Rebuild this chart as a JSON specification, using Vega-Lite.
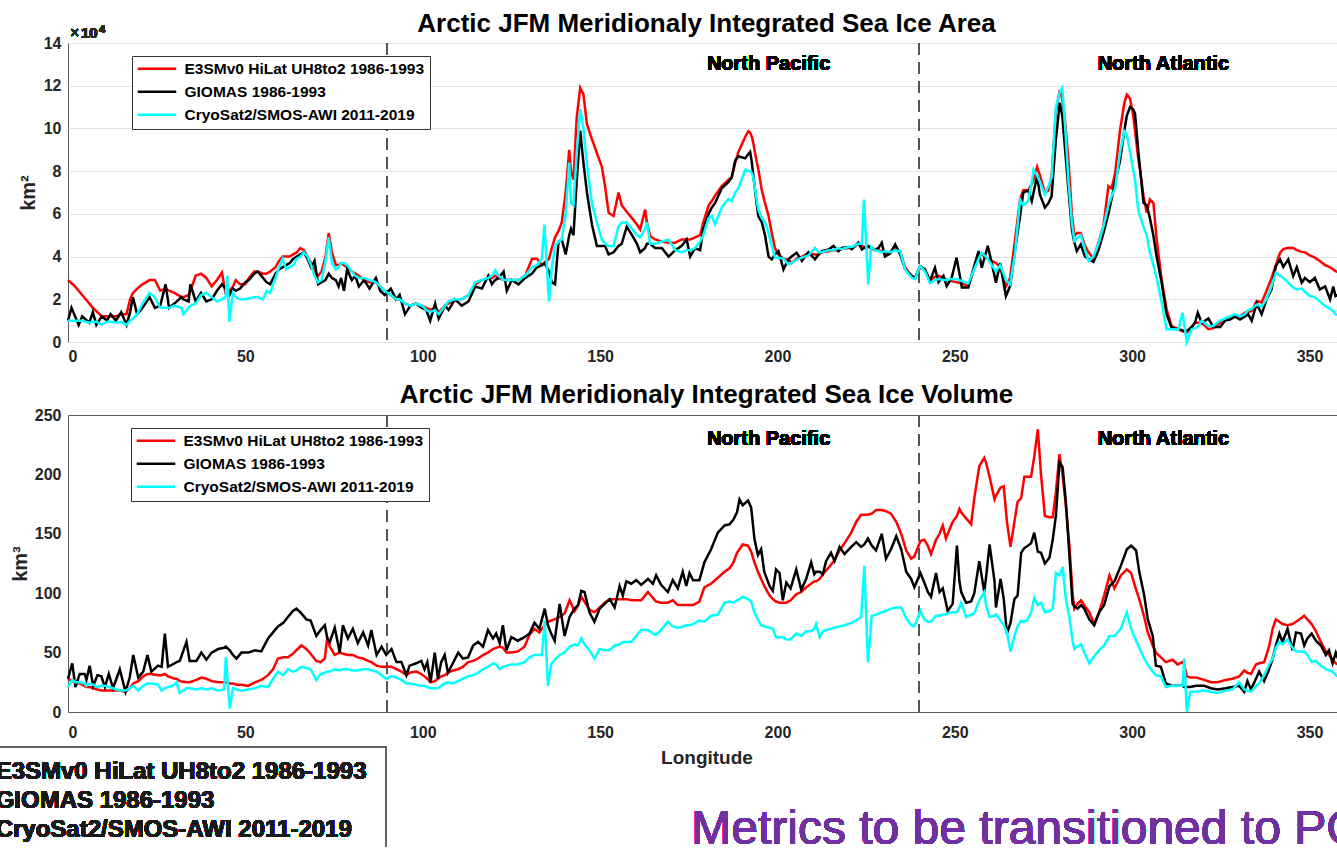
{
"$schema": "https://vega.github.io/schema/vega-lite/v6.json",
"background": "white",
"padding": {"left": -5, "top": 10, "right": 0, "bottom": 0},
"spacing": 16,
"datasets": {
"area": [
{"x":0,"e":2.9,"g":1.0,"c":1.0},{"x":1,"e":2.75,"g":1.6,"c":1.0},{"x":2,"e":2.6,"g":1.2,"c":1.0},{"x":3,"e":2.4,"g":0.8,"c":1.0},{"x":4,"e":2.2,"g":1.2,"c":1.0},{"x":6,"e":1.8,"g":0.9,"c":0.9},{"x":7,"e":1.6,"g":1.4,"c":0.95},{"x":8,"e":1.45,"g":0.8,"c":0.95},{"x":9.5,"e":1.2,"g":1.2,"c":0.8},{"x":11,"e":1.2,"g":1.0,"c":0.95},{"x":12,"e":1.2,"g":1.3,"c":0.95},{"x":13.5,"e":1.2,"g":1.0,"c":0.9},{"x":15,"e":1.3,"g":1.4,"c":0.95},{"x":16.5,"e":1.3,"g":0.8,"c":0.8},{"x":17.5,"e":2.0,"g":1.4,"c":1.0},{"x":18.3,"e":2.3,"g":2.1,"c":1.1},{"x":19.5,"e":2.5,"g":1.3,"c":1.3},{"x":21,"e":2.7,"g":1.6,"c":1.8},{"x":23,"e":2.9,"g":2.1,"c":2.3},{"x":24.5,"e":2.9,"g":1.6,"c":2.1},{"x":26,"e":2.4,"g":1.7,"c":1.6},{"x":27.5,"e":2.5,"g":2.7,"c":1.6},{"x":28.5,"e":2.4,"g":1.6,"c":1.6},{"x":30,"e":2.3,"g":1.8,"c":1.7},{"x":32,"e":2.1,"g":2.1,"c":1.6},{"x":32.5,"e":2.1,"g":2.0,"c":1.3},{"x":34,"e":2.2,"g":1.9,"c":1.6},{"x":34.5,"e":2.4,"g":2.7,"c":1.7},{"x":36,"e":3.1,"g":1.9,"c":1.8},{"x":37.5,"e":3.2,"g":2.3,"c":2.2},{"x":39,"e":3.0,"g":1.9,"c":2.3},{"x":40.5,"e":2.6,"g":2.0,"c":2.1},{"x":42,"e":2.9,"g":2.4,"c":1.9},{"x":43.4,"e":3.25,"g":2.7,"c":2.0},{"x":44.4,"e":2.3,"g":2.5,"c":2.1},{"x":44.9,"e":2.3,"g":2.4,"c":3.1},{"x":45.5,"e":2.4,"g":2.2,"c":0.95},{"x":46.5,"e":2.6,"g":2.5,"c":2.3},{"x":47.3,"e":2.9,"g":2.4,"c":2.1},{"x":48.5,"e":2.7,"g":2.5,"c":2.0},{"x":50,"e":2.7,"g":2.8,"c":2.0},{"x":51,"e":3.0,"g":2.9,"c":2.05},{"x":52.5,"e":3.3,"g":3.2,"c":2.1},{"x":53.5,"e":3.3,"g":3.3,"c":2.1},{"x":55,"e":3.2,"g":3.0,"c":2.0},{"x":56,"e":3.2,"g":2.8,"c":2.4},{"x":57,"e":3.3,"g":2.7,"c":2.3},{"x":58.5,"e":3.5,"g":3.2,"c":3.0},{"x":59.5,"e":3.8,"g":3.4,"c":3.5},{"x":60.5,"e":4.0,"g":3.5,"c":3.9},{"x":61.5,"e":4.0,"g":3.6,"c":3.4},{"x":62.5,"e":4.0,"g":3.7,"c":3.5},{"x":63.5,"e":4.1,"g":3.9,"c":3.6},{"x":64.5,"e":4.2,"g":4.0,"c":3.9},{"x":65.5,"e":4.4,"g":4.1,"c":4.0},{"x":66.5,"e":4.3,"g":4.2,"c":4.2},{"x":67.5,"e":4.0,"g":3.9,"c":4.0},{"x":68.5,"e":3.7,"g":3.5,"c":3.6},{"x":69.5,"e":3.3,"g":3.8,"c":3.1},{"x":70.5,"e":3.1,"g":2.7,"c":2.8},{"x":71.5,"e":3.3,"g":2.8,"c":2.9},{"x":72.6,"e":4.0,"g":2.9,"c":3.8},{"x":73.5,"e":5.1,"g":3.2,"c":4.9},{"x":74.4,"e":4.2,"g":3.0,"c":3.7},{"x":75.5,"e":3.6,"g":2.9,"c":3.4},{"x":76.3,"e":3.6,"g":2.6,"c":3.5},{"x":77,"e":3.7,"g":3.0,"c":3.7},{"x":77.8,"e":3.6,"g":2.4,"c":3.7},{"x":78.7,"e":3.5,"g":3.4,"c":3.6},{"x":80,"e":3.3,"g":2.9,"c":3.3},{"x":81,"e":3.2,"g":3.1,"c":3.1},{"x":82,"e":3.1,"g":2.6,"c":3.0},{"x":83.5,"e":2.9,"g":2.9,"c":3.0},{"x":85,"e":2.8,"g":2.5,"c":2.9},{"x":86.8,"e":2.8,"g":3.0,"c":2.8},{"x":88,"e":2.6,"g":2.4,"c":2.6},{"x":89.3,"e":2.4,"g":2.2,"c":2.4},{"x":91,"e":2.2,"g":2.5,"c":2.2},{"x":92.5,"e":2.0,"g":2.0,"c":2.0},{"x":93.5,"e":2.0,"g":2.2,"c":2.0},{"x":95,"e":1.8,"g":1.3,"c":1.8},{"x":96.5,"e":1.7,"g":1.7,"c":1.7},{"x":98,"e":1.8,"g":1.8,"c":1.8},{"x":99.8,"e":1.7,"g":1.6,"c":1.7},{"x":101,"e":1.6,"g":1.5,"c":1.5},{"x":102.1,"e":1.5,"g":1.0,"c":1.4},{"x":103.5,"e":1.6,"g":1.8,"c":1.5},{"x":104.5,"e":1.4,"g":1.1,"c":1.3},{"x":106.3,"e":1.7,"g":1.7,"c":1.7},{"x":107.3,"e":1.8,"g":1.5,"c":1.9},{"x":109.1,"e":2.0,"g":2.0,"c":2.0},{"x":111,"e":2.0,"g":1.7,"c":2.0},{"x":112.9,"e":2.2,"g":1.9,"c":2.2},{"x":114.8,"e":2.7,"g":2.6,"c":2.8},{"x":116.7,"e":2.9,"g":2.5,"c":2.9},{"x":118.5,"e":3.0,"g":3.1,"c":3.0},{"x":119.5,"e":3.0,"g":2.7,"c":3.1},{"x":120.4,"e":3.1,"g":2.9,"c":3.35},{"x":121.4,"e":3.0,"g":3.0,"c":3.1},{"x":122.8,"e":2.9,"g":3.3,"c":2.9},{"x":123.7,"e":2.9,"g":2.4,"c":2.9},{"x":125.1,"e":2.9,"g":2.9,"c":2.9},{"x":127,"e":2.9,"g":2.7,"c":2.9},{"x":128.9,"e":3.1,"g":3.0,"c":3.1},{"x":130.8,"e":3.9,"g":3.2,"c":3.5},{"x":132.2,"e":3.9,"g":3.5,"c":3.6},{"x":133.6,"e":3.6,"g":3.6,"c":3.9},{"x":134.3,"e":3.7,"g":3.7,"c":5.5},{"x":135.6,"e":3.9,"g":3.3,"c":1.9},{"x":136.4,"e":4.4,"g":2.8,"c":3.5},{"x":137.3,"e":4.9,"g":2.7,"c":4.5},{"x":138.3,"e":5.2,"g":4.7,"c":4.7},{"x":139.2,"e":5.6,"g":4.8,"c":4.8},{"x":140.3,"e":7.0,"g":4.1,"c":6.0},{"x":141.3,"e":9.0,"g":5.0,"c":8.4},{"x":141.8,"e":8.0,"g":5.3,"c":6.5},{"x":142.5,"e":7.6,"g":5.0,"c":6.4},{"x":143.4,"e":10.5,"g":7.5,"c":8.8},{"x":144.4,"e":11.9,"g":9.9,"c":10.9},{"x":145.3,"e":11.6,"g":8.4,"c":10.0},{"x":146.3,"e":10.2,"g":7.0,"c":8.3},{"x":147.7,"e":9.5,"g":5.5,"c":6.5},{"x":149.1,"e":8.85,"g":4.5,"c":5.6},{"x":150.5,"e":8.2,"g":4.5,"c":4.8},{"x":151.4,"e":7.3,"g":4.5,"c":4.6},{"x":152.4,"e":6.05,"g":4.1,"c":4.5},{"x":153.8,"e":5.9,"g":4.2,"c":4.5},{"x":155.2,"e":7.0,"g":4.5,"c":5.4},{"x":156.1,"e":6.4,"g":4.6,"c":5.6},{"x":157.5,"e":6.1,"g":5.4,"c":5.6},{"x":159,"e":5.8,"g":5.0,"c":5.3},{"x":160.4,"e":5.5,"g":4.6,"c":5.0},{"x":161.3,"e":5.27,"g":4.2,"c":4.9},{"x":162.7,"e":6.2,"g":4.4,"c":5.3},{"x":163.2,"e":5.6,"g":4.6,"c":5.6},{"x":164.1,"e":4.96,"g":4.6,"c":4.6},{"x":165.5,"e":4.8,"g":4.4,"c":4.6},{"x":167.4,"e":4.7,"g":4.4,"c":4.7},{"x":169.3,"e":4.65,"g":4.0,"c":4.8},{"x":171.2,"e":4.65,"g":4.3,"c":4.3},{"x":173,"e":4.8,"g":4.5,"c":4.2},{"x":174.4,"e":4.8,"g":4.8,"c":4.3},{"x":175.4,"e":4.8,"g":4.0,"c":4.3},{"x":176.8,"e":4.9,"g":4.4,"c":4.4},{"x":178.2,"e":5.0,"g":4.3,"c":4.7},{"x":179.1,"e":5.6,"g":5.3,"c":5.0},{"x":180.6,"e":6.4,"g":6.0,"c":5.8},{"x":181.5,"e":6.6,"g":6.3,"c":5.9},{"x":182.4,"e":6.85,"g":6.5,"c":5.5},{"x":184.3,"e":7.3,"g":7.2,"c":6.3},{"x":186.2,"e":7.6,"g":7.5,"c":6.7},{"x":187.1,"e":7.7,"g":7.7,"c":6.6},{"x":188.1,"e":8.4,"g":8.5,"c":7.0},{"x":189,"e":8.9,"g":8.7,"c":7.2},{"x":190.9,"e":9.6,"g":8.6,"c":8.07},{"x":191.8,"e":9.87,"g":8.8,"c":8.0},{"x":192.3,"e":9.8,"g":8.9,"c":8.0},{"x":192.8,"e":9.6,"g":8.4,"c":7.9},{"x":193.2,"e":9.3,"g":7.8,"c":7.7},{"x":194.2,"e":8.4,"g":6.4,"c":6.6},{"x":194.6,"e":8.1,"g":5.9,"c":6.2},{"x":195.6,"e":7.1,"g":5.6,"c":5.8},{"x":196.5,"e":6.5,"g":5.0,"c":5.6},{"x":197.5,"e":5.9,"g":4.0,"c":5.1},{"x":198.4,"e":5.1,"g":3.87,"c":4.5},{"x":199.3,"e":4.4,"g":4.1,"c":3.95},{"x":200.3,"e":4.1,"g":4.26,"c":3.95},{"x":201.7,"e":3.9,"g":3.4,"c":3.9},{"x":203.1,"e":3.85,"g":3.87,"c":3.63},{"x":204,"e":3.7,"g":4.0,"c":3.7},{"x":205.4,"e":3.9,"g":4.18,"c":3.85},{"x":206.9,"e":4.0,"g":3.8,"c":3.95},{"x":208.7,"e":4.15,"g":4.2,"c":4.05},{"x":210.6,"e":4.1,"g":3.87,"c":4.4},{"x":211.6,"e":4.1,"g":4.1,"c":4.2},{"x":212.5,"e":4.2,"g":4.26,"c":4.2},{"x":214.4,"e":4.25,"g":4.33,"c":4.3},{"x":215.8,"e":4.3,"g":4.5,"c":4.3},{"x":217.2,"e":4.3,"g":4.25,"c":4.4},{"x":218.1,"e":4.35,"g":4.4,"c":4.35},{"x":220,"e":4.4,"g":4.45,"c":4.45},{"x":221,"e":4.4,"g":4.35,"c":4.45},{"x":222.8,"e":4.6,"g":4.65,"c":4.6},{"x":223.8,"e":4.5,"g":4.33,"c":4.6},{"x":224.4,"e":4.45,"g":4.4,"c":6.67},{"x":225.6,"e":4.45,"g":4.5,"c":2.7},{"x":226.4,"e":4.4,"g":4.4,"c":4.45},{"x":227.5,"e":4.3,"g":4.33,"c":4.3},{"x":228.5,"e":4.3,"g":4.4,"c":4.25},{"x":229.4,"e":4.25,"g":4.65,"c":4.2},{"x":230.3,"e":4.15,"g":4.0,"c":4.25},{"x":231.8,"e":4.2,"g":4.15,"c":4.2},{"x":233.2,"e":4.4,"g":4.57,"c":4.3},{"x":234.6,"e":4.25,"g":4.1,"c":4.25},{"x":236,"e":3.5,"g":3.4,"c":3.4},{"x":237.9,"e":3.05,"g":3.1,"c":3.0},{"x":238.8,"e":3.0,"g":3.0,"c":2.95},{"x":240.2,"e":3.5,"g":3.55,"c":3.55},{"x":241.6,"e":3.35,"g":3.4,"c":3.3},{"x":243,"e":2.9,"g":2.85,"c":2.75},{"x":244.4,"e":3.05,"g":3.48,"c":2.9},{"x":245.4,"e":3.1,"g":2.8,"c":2.95},{"x":246.8,"e":3.0,"g":3.1,"c":2.9},{"x":247.7,"e":2.9,"g":2.62,"c":2.9},{"x":249.1,"e":2.85,"g":3.0,"c":2.95},{"x":250.5,"e":2.8,"g":3.95,"c":2.95},{"x":252,"e":2.75,"g":2.55,"c":2.85},{"x":253.8,"e":2.6,"g":2.55,"c":2.75},{"x":255.2,"e":3.3,"g":3.4,"c":3.3},{"x":256.7,"e":4.0,"g":4.26,"c":3.9},{"x":257.6,"e":4.1,"g":3.48,"c":4.18},{"x":259.3,"e":3.9,"g":4.5,"c":3.9},{"x":260.4,"e":3.8,"g":3.7,"c":3.6},{"x":261.6,"e":3.7,"g":2.78,"c":3.3},{"x":262.8,"e":3.5,"g":3.7,"c":3.6},{"x":264.4,"e":2.6,"g":2.15,"c":2.9},{"x":265.6,"e":3.0,"g":2.62,"c":2.7},{"x":267,"e":4.8,"g":4.33,"c":4.2},{"x":268.4,"e":6.7,"g":5.9,"c":6.67},{"x":269.3,"e":7.1,"g":7.0,"c":6.4},{"x":270.7,"e":7.1,"g":7.1,"c":6.6},{"x":271.7,"e":7.4,"g":6.6,"c":7.5},{"x":272.2,"e":7.6,"g":7.0,"c":8.07},{"x":273.2,"e":8.2,"g":7.77,"c":7.8},{"x":274,"e":7.8,"g":6.9,"c":7.5},{"x":275.4,"e":7.0,"g":6.3,"c":6.9},{"x":276.4,"e":7.1,"g":6.5,"c":7.3},{"x":277.3,"e":7.8,"g":6.83,"c":7.7},{"x":278.5,"e":10.8,"g":9.5,"c":11.0},{"x":279.6,"e":11.8,"g":11.2,"c":11.7},{"x":280.3,"e":11.4,"g":10.6,"c":11.9},{"x":281.1,"e":10.3,"g":9.0,"c":10.1},{"x":282,"e":8.6,"g":7.2,"c":7.6},{"x":283,"e":6.0,"g":5.27,"c":5.6},{"x":283.7,"e":4.96,"g":4.65,"c":4.72},{"x":284.4,"e":5.1,"g":4.26,"c":4.85},{"x":285.5,"e":5.1,"g":4.57,"c":5.0},{"x":286.7,"e":4.5,"g":4.0,"c":4.33},{"x":287.7,"e":4.2,"g":3.9,"c":3.79},{"x":289.1,"e":3.9,"g":3.75,"c":4.0},{"x":290.5,"e":4.65,"g":4.3,"c":4.6},{"x":291.9,"e":5.43,"g":5.1,"c":5.4},{"x":293.3,"e":7.3,"g":6.0,"c":6.4},{"x":294.2,"e":7.2,"g":6.7,"c":6.83},{"x":295.2,"e":7.9,"g":7.5,"c":7.2},{"x":296.6,"e":9.94,"g":8.5,"c":8.9},{"x":297.8,"e":11.2,"g":9.9,"c":9.87},{"x":298.5,"e":11.58,"g":10.6,"c":9.7},{"x":299.4,"e":11.4,"g":11.0,"c":8.9},{"x":300.3,"e":10.6,"g":10.9,"c":8.07},{"x":300.8,"e":9.9,"g":10.7,"c":7.6},{"x":301.7,"e":8.6,"g":9.0,"c":6.2},{"x":302.2,"e":8.07,"g":8.15,"c":5.9},{"x":303.2,"e":6.83,"g":6.52,"c":5.4},{"x":304.1,"e":6.05,"g":6.4,"c":5.0},{"x":305,"e":6.67,"g":5.8,"c":4.2},{"x":306,"e":6.5,"g":4.96,"c":3.6},{"x":306.9,"e":4.8,"g":4.0,"c":3.0},{"x":308.3,"e":2.93,"g":2.8,"c":1.9},{"x":309.7,"e":1.53,"g":1.3,"c":0.6},{"x":311.1,"e":0.75,"g":0.67,"c":0.6},{"x":313,"e":0.6,"g":0.6,"c":0.58},{"x":314.2,"e":0.5,"g":0.55,"c":1.37},{"x":315.4,"e":0.44,"g":0.52,"c":0.0},{"x":316.8,"e":0.7,"g":0.7,"c":0.6},{"x":317.7,"e":0.9,"g":0.9,"c":0.65},{"x":318.5,"e":0.9,"g":1.37,"c":0.7},{"x":319.6,"e":0.9,"g":0.9,"c":1.0},{"x":321.5,"e":0.6,"g":1.1,"c":0.75},{"x":322.9,"e":0.65,"g":0.7,"c":0.75},{"x":324.8,"e":0.9,"g":0.7,"c":1.0},{"x":326.2,"e":1.06,"g":1.0,"c":1.1},{"x":327.6,"e":1.2,"g":1.05,"c":1.2},{"x":329,"e":1.25,"g":1.2,"c":1.3},{"x":330.4,"e":1.2,"g":1.05,"c":1.2},{"x":331.8,"e":1.37,"g":1.2,"c":1.3},{"x":332.7,"e":1.4,"g":1.3,"c":1.5},{"x":333.7,"e":1.45,"g":1.0,"c":1.55},{"x":335.1,"e":1.92,"g":1.8,"c":1.76},{"x":336.5,"e":1.85,"g":1.3,"c":1.65},{"x":337.9,"e":2.4,"g":2.0,"c":2.0},{"x":339.3,"e":3.0,"g":2.46,"c":2.62},{"x":340.5,"e":3.6,"g":3.55,"c":3.24},{"x":341.7,"e":4.18,"g":3.87,"c":3.1},{"x":342.6,"e":4.35,"g":3.52,"c":3.0},{"x":344,"e":4.41,"g":3.87,"c":2.78},{"x":345.4,"e":4.4,"g":3.09,"c":2.55},{"x":346.4,"e":4.3,"g":3.5,"c":2.46},{"x":347.8,"e":4.22,"g":2.78,"c":2.5},{"x":348.7,"e":4.2,"g":3.0,"c":2.35},{"x":350.1,"e":4.05,"g":2.8,"c":2.15},{"x":351.5,"e":3.95,"g":3.0,"c":2.1},{"x":352.9,"e":3.79,"g":2.46,"c":1.9},{"x":354.4,"e":3.6,"g":2.6,"c":1.69},{"x":355.8,"e":3.5,"g":2.0,"c":1.55},{"x":356.7,"e":3.4,"g":2.6,"c":1.45},{"x":357.3,"e":3.32,"g":2.15,"c":1.3},{"x":359,"e":3.2,"g":2.3,"c":1.2},{"x":360,"e":3.15,"g":1.9,"c":1.1}
],
"vol": [
{"x":0,"e":28,"g":28,"c":21},{"x":1.2,"e":26,"g":41,"c":27},{"x":2.1,"e":25,"g":21,"c":25},{"x":3.3,"e":24,"g":32,"c":25},{"x":4.7,"e":22,"g":32,"c":24},{"x":5.2,"e":21,"g":27,"c":22},{"x":6.1,"e":21,"g":39,"c":24},{"x":7.1,"e":20,"g":22,"c":23},{"x":8.3,"e":19,"g":31,"c":21},{"x":9.4,"e":18,"g":30,"c":22},{"x":10.4,"e":18,"g":21,"c":22},{"x":11.5,"e":18,"g":32,"c":21},{"x":12.7,"e":18,"g":20,"c":20},{"x":14.6,"e":18,"g":36,"c":18},{"x":16.2,"e":17,"g":17,"c":18},{"x":17.4,"e":20,"g":29,"c":20},{"x":18.4,"e":24,"g":48,"c":22},{"x":19.8,"e":26,"g":29,"c":18},{"x":21.2,"e":30,"g":34,"c":22},{"x":22.4,"e":32,"g":48,"c":24},{"x":23.5,"e":32,"g":34,"c":24},{"x":25.4,"e":31,"g":39,"c":23},{"x":26.4,"e":31,"g":38,"c":18},{"x":27.3,"e":32,"g":66,"c":20},{"x":28.2,"e":30,"g":38,"c":21},{"x":30.1,"e":28,"g":41,"c":23},{"x":30.6,"e":28,"g":42,"c":25},{"x":31.5,"e":26,"g":43,"c":16},{"x":33.4,"e":25,"g":59,"c":20},{"x":34.3,"e":25,"g":43,"c":20},{"x":36.2,"e":27,"g":43,"c":19},{"x":37.6,"e":29,"g":50,"c":20},{"x":39,"e":28,"g":44,"c":19},{"x":40.5,"e":26,"g":50,"c":20},{"x":42.3,"e":25,"g":53,"c":18},{"x":44,"e":25,"g":54,"c":19},{"x":44.5,"e":25,"g":55,"c":46},{"x":45.6,"e":24,"g":52,"c":3},{"x":46.5,"e":24,"g":48,"c":20},{"x":47.5,"e":23,"g":45,"c":19},{"x":48.9,"e":23,"g":50,"c":18},{"x":50.8,"e":22,"g":50,"c":19},{"x":52.7,"e":25,"g":52,"c":20},{"x":54.5,"e":27,"g":51,"c":22},{"x":56.4,"e":31,"g":62,"c":21},{"x":57.8,"e":36,"g":67,"c":28},{"x":59.2,"e":45,"g":72,"c":34},{"x":60.7,"e":46,"g":75,"c":31},{"x":62,"e":46,"g":80,"c":36},{"x":63.4,"e":49,"g":85,"c":34},{"x":64.4,"e":52,"g":87,"c":35},{"x":65.8,"e":56,"g":83,"c":38},{"x":67.2,"e":53,"g":78,"c":37},{"x":68.4,"e":49,"g":77,"c":36},{"x":70,"e":43,"g":64,"c":27},{"x":71.2,"e":42,"g":69,"c":32},{"x":72.4,"e":45,"g":73,"c":33},{"x":73.1,"e":63,"g":62,"c":34},{"x":73.8,"e":55,"g":59,"c":34},{"x":75.2,"e":48,"g":71,"c":36},{"x":76.6,"e":50,"g":50,"c":35},{"x":77.5,"e":49,"g":73,"c":36},{"x":78.9,"e":48,"g":62,"c":36},{"x":80.3,"e":48,"g":70,"c":35},{"x":81.7,"e":46,"g":58,"c":35},{"x":83.2,"e":45,"g":67,"c":36},{"x":84.6,"e":43,"g":56,"c":36},{"x":85.5,"e":42,"g":69,"c":35},{"x":87,"e":39,"g":48,"c":34},{"x":88.4,"e":38,"g":55,"c":31},{"x":89.7,"e":38,"g":48,"c":28},{"x":91.2,"e":38,"g":53,"c":30},{"x":92.6,"e":36,"g":42,"c":29},{"x":94,"e":34,"g":42,"c":27},{"x":95.4,"e":31,"g":31,"c":24},{"x":96.3,"e":33,"g":39,"c":24},{"x":98.2,"e":34,"g":41,"c":23},{"x":99.6,"e":32,"g":43,"c":22},{"x":100.5,"e":30,"g":36,"c":22},{"x":101.3,"e":28,"g":42,"c":21},{"x":102.2,"e":25,"g":25,"c":20},{"x":103.4,"e":26,"g":50,"c":20},{"x":104.3,"e":28,"g":28,"c":20},{"x":105.2,"e":30,"g":42,"c":22},{"x":106.2,"e":31,"g":48,"c":24},{"x":107.1,"e":33,"g":33,"c":25},{"x":108.5,"e":35,"g":41,"c":24},{"x":110,"e":36,"g":50,"c":26},{"x":111.3,"e":38,"g":45,"c":28},{"x":112.8,"e":42,"g":46,"c":30},{"x":114.2,"e":43,"g":56,"c":31},{"x":115.6,"e":45,"g":59,"c":33},{"x":117,"e":48,"g":55,"c":36},{"x":118.4,"e":50,"g":69,"c":38},{"x":119.8,"e":53,"g":62,"c":41},{"x":120.7,"e":54,"g":66,"c":40},{"x":121.7,"e":55,"g":58,"c":36},{"x":122.6,"e":54,"g":73,"c":38},{"x":123.6,"e":50,"g":52,"c":39},{"x":125,"e":50,"g":63,"c":40},{"x":126.8,"e":51,"g":60,"c":40},{"x":128.7,"e":55,"g":63,"c":42},{"x":130.1,"e":65,"g":66,"c":46},{"x":131.5,"e":70,"g":75,"c":48},{"x":132.9,"e":67,"g":70,"c":48},{"x":133.6,"e":70,"g":78,"c":48},{"x":134.4,"e":73,"g":87,"c":77},{"x":135.3,"e":76,"g":73,"c":22},{"x":136.2,"e":77,"g":66,"c":40},{"x":137.2,"e":78,"g":60,"c":44},{"x":138.6,"e":80,"g":91,"c":48},{"x":140,"e":83,"g":64,"c":50},{"x":141.4,"e":94,"g":80,"c":55},{"x":142.8,"e":85,"g":87,"c":57},{"x":143.8,"e":90,"g":90,"c":56},{"x":144.7,"e":97,"g":102,"c":62},{"x":145.6,"e":93,"g":101,"c":57},{"x":147,"e":86,"g":84,"c":52},{"x":148.4,"e":84,"g":76,"c":45},{"x":149.9,"e":88,"g":87,"c":53},{"x":151.3,"e":92,"g":91,"c":52},{"x":152.7,"e":95,"g":95,"c":52},{"x":154.1,"e":95,"g":88,"c":56},{"x":155.5,"e":95,"g":106,"c":57},{"x":156.4,"e":95,"g":98,"c":59},{"x":157.4,"e":95,"g":110,"c":59},{"x":158.8,"e":94,"g":108,"c":59},{"x":160.2,"e":94,"g":111,"c":64},{"x":161.6,"e":94,"g":107,"c":69},{"x":163.5,"e":101,"g":112,"c":69},{"x":164.9,"e":96,"g":108,"c":66},{"x":165.8,"e":93,"g":115,"c":65},{"x":167.2,"e":92,"g":107,"c":69},{"x":169.1,"e":92,"g":101,"c":76},{"x":170.5,"e":94,"g":111,"c":72},{"x":171.9,"e":90,"g":104,"c":71},{"x":173.3,"e":90,"g":118,"c":72},{"x":174.3,"e":90,"g":106,"c":73},{"x":175.2,"e":90,"g":117,"c":73},{"x":176.2,"e":90,"g":111,"c":74},{"x":178,"e":93,"g":111,"c":77},{"x":179.4,"e":105,"g":126,"c":76},{"x":181.3,"e":108,"g":137,"c":81},{"x":183.2,"e":113,"g":151,"c":82},{"x":185.1,"e":118,"g":157,"c":92},{"x":186.5,"e":121,"g":158,"c":93},{"x":187.6,"e":126,"g":162,"c":92},{"x":188.6,"e":134,"g":168,"c":94},{"x":189.3,"e":137,"g":179,"c":95},{"x":190.2,"e":141,"g":174,"c":97},{"x":191.7,"e":140,"g":178,"c":95},{"x":192.6,"e":135,"g":172,"c":93},{"x":193.5,"e":126,"g":146,"c":84},{"x":194.5,"e":118,"g":132,"c":78},{"x":195.4,"e":112,"g":137,"c":73},{"x":196.3,"e":106,"g":118,"c":72},{"x":197.8,"e":98,"g":106,"c":71},{"x":198.7,"e":95,"g":102,"c":70},{"x":199.6,"e":93,"g":120,"c":63},{"x":200.6,"e":92,"g":117,"c":63},{"x":201.5,"e":92,"g":94,"c":63},{"x":202.5,"e":92,"g":109,"c":61},{"x":203.7,"e":94,"g":104,"c":61},{"x":205.3,"e":99,"g":120,"c":66},{"x":206.7,"e":101,"g":103,"c":64},{"x":208.1,"e":105,"g":112,"c":68},{"x":209.5,"e":108,"g":126,"c":68},{"x":210.4,"e":110,"g":116,"c":70},{"x":210.9,"e":110,"g":118,"c":74},{"x":211.9,"e":112,"g":118,"c":63},{"x":212.8,"e":116,"g":116,"c":68},{"x":213.7,"e":119,"g":127,"c":69},{"x":215.1,"e":124,"g":134,"c":70},{"x":216.1,"e":128,"g":127,"c":71},{"x":217.5,"e":136,"g":139,"c":72},{"x":218.9,"e":142,"g":133,"c":73},{"x":220.8,"e":151,"g":139,"c":75},{"x":222.2,"e":160,"g":143,"c":77},{"x":223.6,"e":166,"g":139,"c":80},{"x":224.5,"e":166,"g":141,"c":123},{"x":225.5,"e":166,"g":146,"c":42},{"x":226.6,"e":167,"g":140,"c":81},{"x":227.8,"e":170,"g":136,"c":82},{"x":229.4,"e":170,"g":150,"c":84},{"x":230.6,"e":169,"g":129,"c":85},{"x":232,"e":167,"g":137,"c":87},{"x":233.5,"e":160,"g":148,"c":88},{"x":234.9,"e":150,"g":137,"c":88},{"x":236.3,"e":136,"g":118,"c":79},{"x":237.7,"e":129,"g":112,"c":73},{"x":238.6,"e":131,"g":105,"c":72},{"x":240.3,"e":144,"g":117,"c":85},{"x":241.4,"e":145,"g":109,"c":78},{"x":242.4,"e":140,"g":101,"c":76},{"x":243.3,"e":133,"g":97,"c":76},{"x":244.7,"e":145,"g":117,"c":81},{"x":245.7,"e":150,"g":101,"c":81},{"x":246.6,"e":157,"g":104,"c":82},{"x":247.5,"e":146,"g":92,"c":82},{"x":248,"e":150,"g":85,"c":83},{"x":249.4,"e":160,"g":91,"c":84},{"x":250.6,"e":165,"g":140,"c":84},{"x":251.3,"e":171,"g":110,"c":88},{"x":251.8,"e":168,"g":101,"c":92},{"x":253.2,"e":163,"g":92,"c":80},{"x":254.6,"e":158,"g":93,"c":82},{"x":255.5,"e":180,"g":100,"c":83},{"x":256.9,"e":207,"g":127,"c":94},{"x":258.3,"e":214,"g":101,"c":101},{"x":258.8,"e":210,"g":113,"c":90},{"x":259.8,"e":198,"g":141,"c":80},{"x":261.2,"e":179,"g":110,"c":81},{"x":261.6,"e":182,"g":88,"c":82},{"x":262.9,"e":189,"g":112,"c":77},{"x":263.8,"e":190,"g":95,"c":73},{"x":264.7,"e":160,"g":66,"c":67},{"x":265.7,"e":139,"g":75,"c":51},{"x":266.8,"e":160,"g":95,"c":64},{"x":267.7,"e":177,"g":98,"c":72},{"x":268.7,"e":180,"g":134,"c":77},{"x":269.6,"e":198,"g":138,"c":76},{"x":270.6,"e":198,"g":140,"c":78},{"x":271.5,"e":198,"g":142,"c":84},{"x":272.4,"e":215,"g":151,"c":96},{"x":273.4,"e":238,"g":135,"c":90},{"x":274.3,"e":200,"g":134,"c":92},{"x":275.4,"e":165,"g":125,"c":84},{"x":276.7,"e":164,"g":130,"c":85},{"x":277.6,"e":164,"g":145,"c":87},{"x":278.5,"e":185,"g":165,"c":117},{"x":279.5,"e":217,"g":210,"c":115},{"x":280.4,"e":199,"g":206,"c":122},{"x":281.3,"e":174,"g":177,"c":95},{"x":282.3,"e":140,"g":132,"c":80},{"x":283.2,"e":100,"g":91,"c":60},{"x":283.7,"e":87,"g":89,"c":53},{"x":284.6,"e":91,"g":87,"c":55},{"x":285.6,"e":94,"g":90,"c":57},{"x":286.5,"e":90,"g":87,"c":50},{"x":287.9,"e":84,"g":78,"c":41},{"x":289.3,"e":74,"g":73,"c":47},{"x":290.7,"e":84,"g":84,"c":52},{"x":292.1,"e":98,"g":90,"c":56},{"x":293.6,"e":115,"g":106,"c":64},{"x":295,"e":104,"g":110,"c":64},{"x":296.8,"e":115,"g":123,"c":70},{"x":298.5,"e":120,"g":137,"c":84},{"x":299.7,"e":117,"g":140,"c":70},{"x":301.1,"e":103,"g":136,"c":60},{"x":302,"e":95,"g":118,"c":54},{"x":303.4,"e":80,"g":98,"c":45},{"x":304.4,"e":67,"g":78,"c":40},{"x":305.8,"e":56,"g":64,"c":34},{"x":306.7,"e":50,"g":39,"c":31},{"x":308.1,"e":46,"g":38,"c":30},{"x":309.5,"e":42,"g":24,"c":21},{"x":311.4,"e":44,"g":22,"c":22},{"x":312.8,"e":40,"g":22,"c":22},{"x":314.2,"e":42,"g":22,"c":22},{"x":314.7,"e":40,"g":21,"c":45},{"x":315.4,"e":30,"g":21,"c":0},{"x":316.4,"e":29,"g":21,"c":17},{"x":318,"e":29,"g":22,"c":17},{"x":320.3,"e":27,"g":22,"c":18},{"x":322.2,"e":25,"g":20,"c":17},{"x":324.1,"e":25,"g":19,"c":16},{"x":326.4,"e":27,"g":20,"c":18},{"x":328.3,"e":28,"g":21,"c":19},{"x":330.2,"e":30,"g":22,"c":25},{"x":331.6,"e":35,"g":17,"c":19},{"x":332.5,"e":33,"g":26,"c":18},{"x":333.5,"e":32,"g":19,"c":17},{"x":334.9,"e":40,"g":28,"c":22},{"x":335.8,"e":41,"g":34,"c":24},{"x":337.2,"e":42,"g":26,"c":31},{"x":338.6,"e":55,"g":36,"c":40},{"x":339.6,"e":70,"g":45,"c":45},{"x":340.5,"e":78,"g":56,"c":54},{"x":341.5,"e":76,"g":66,"c":59},{"x":342.4,"e":74,"g":59,"c":57},{"x":343.8,"e":73,"g":70,"c":61},{"x":345.2,"e":74,"g":52,"c":54},{"x":346.2,"e":76,"g":67,"c":51},{"x":347.6,"e":79,"g":66,"c":51},{"x":348.5,"e":81,"g":56,"c":51},{"x":349.4,"e":78,"g":62,"c":48},{"x":350.6,"e":74,"g":66,"c":42},{"x":351.8,"e":68,"g":60,"c":43},{"x":353.2,"e":59,"g":56,"c":39},{"x":354.6,"e":51,"g":48,"c":36},{"x":355.5,"e":48,"g":52,"c":35},{"x":356.5,"e":44,"g":41,"c":34},{"x":357.4,"e":41,"g":50,"c":31},{"x":358.4,"e":39,"g":42,"c":29},{"x":360,"e":36,"g":40,"c":27}
]
},
"vconcat": [
{
"width": 1277, "height": 299,
"title": {"text": "Arctic JFM Meridionaly Integrated Sea Ice Area", "offset": -13},
"data": {"name": "area"},
"layer": [
{"mark": {"type": "rule", "strokeDash": [12, 7], "color": "#555555", "strokeWidth": 1.3}, "encoding": {"x": {"datum": 90, "type": "quantitative", "scale": {"domain": [0, 360], "nice": false, "zero": false}}}},
{"mark": {"type": "rule", "strokeDash": [12, 7], "color": "#555555", "strokeWidth": 1.3}, "encoding": {"x": {"datum": 240, "type": "quantitative", "scale": {"domain": [0, 360], "nice": false, "zero": false}}}},
{"mark": {"type": "line", "strokeWidth": 2.5}, "encoding": {
 "x": {"field": "x", "type": "quantitative", "scale": {"domain": [0, 360], "nice": false, "zero": false}, "axis": {"title": null, "values": [0, 50, 100, 150, 200, 250, 300, 350], "labelPadding": 6}},
 "y": {"field": "e", "type": "quantitative", "scale": {"domain": [0, 14], "nice": false}, "axis": {"title": "km²", "values": [0, 2, 4, 6, 8, 10, 12, 14], "titlePadding": 5}},
 "color": {"datum": "E3SMv0 HiLat UH8to2 1986-1993", "scale": {"domain": ["E3SMv0 HiLat UH8to2 1986-1993", "GIOMAS 1986-1993", "CryoSat2/SMOS-AWI 2011-2019"], "range": ["#ff0000", "#000000", "#00ffff"]}, "legend": {"title": null, "orient": "none", "legendX": 64, "legendY": 13}}}},
{"mark": {"type": "line", "strokeWidth": 2.5}, "encoding": {
 "x": {"field": "x", "type": "quantitative", "scale": {"domain": [0, 360], "nice": false, "zero": false}, "axis": {"title": null, "values": [0, 50, 100, 150, 200, 250, 300, 350], "labelPadding": 6}},
 "y": {"field": "g", "type": "quantitative", "scale": {"domain": [0, 14], "nice": false}, "axis": {"title": "km²", "values": [0, 2, 4, 6, 8, 10, 12, 14], "titlePadding": 5}},
 "color": {"datum": "GIOMAS 1986-1993", "scale": {"domain": ["E3SMv0 HiLat UH8to2 1986-1993", "GIOMAS 1986-1993", "CryoSat2/SMOS-AWI 2011-2019"], "range": ["#ff0000", "#000000", "#00ffff"]}, "legend": {"title": null, "orient": "none", "legendX": 64, "legendY": 13}}}},
{"mark": {"type": "line", "strokeWidth": 2.5}, "encoding": {
 "x": {"field": "x", "type": "quantitative", "scale": {"domain": [0, 360], "nice": false, "zero": false}, "axis": {"title": null, "values": [0, 50, 100, 150, 200, 250, 300, 350], "labelPadding": 6}},
 "y": {"field": "c", "type": "quantitative", "scale": {"domain": [0, 14], "nice": false}, "axis": {"title": "km²", "values": [0, 2, 4, 6, 8, 10, 12, 14], "titlePadding": 5}},
 "color": {"datum": "CryoSat2/SMOS-AWI 2011-2019", "scale": {"domain": ["E3SMv0 HiLat UH8to2 1986-1993", "GIOMAS 1986-1993", "CryoSat2/SMOS-AWI 2011-2019"], "range": ["#ff0000", "#000000", "#00ffff"]}, "legend": {"title": null, "orient": "none", "legendX": 64, "legendY": 13}}}},
{"mark": {"type": "text", "text": "North Pacific", "fontSize": 20, "fontWeight": "bold", "color": "#000000", "baseline": "middle"}, "encoding": {"x": {"datum": 197.5, "type": "quantitative", "scale": {"domain": [0, 360], "nice": false, "zero": false}}, "y": {"datum": 13, "type": "quantitative", "scale": {"domain": [0, 14], "nice": false}}}},
{"mark": {"type": "text", "text": "North Atlantic", "fontSize": 20, "fontWeight": "bold", "color": "#000000", "baseline": "middle"}, "encoding": {"x": {"datum": 308.8, "type": "quantitative", "scale": {"domain": [0, 360], "nice": false, "zero": false}}, "y": {"datum": 13, "type": "quantitative", "scale": {"domain": [0, 14], "nice": false}}}},
{"mark": {"type": "text", "text": "×", "fontSize": 16, "color": "#262626", "align": "left", "baseline": "alphabetic", "dx": 2, "dy": -5}, "encoding": {"x": {"datum": 0, "type": "quantitative", "scale": {"domain": [0, 360], "nice": false, "zero": false}}, "y": {"datum": 14, "type": "quantitative", "scale": {"domain": [0, 14], "nice": false}}}},
{"mark": {"type": "text", "text": "10", "fontSize": 15, "fontWeight": "bold", "color": "#262626", "align": "left", "baseline": "alphabetic", "dx": 13, "dy": -5}, "encoding": {"x": {"datum": 0, "type": "quantitative", "scale": {"domain": [0, 360], "nice": false, "zero": false}}, "y": {"datum": 14, "type": "quantitative", "scale": {"domain": [0, 14], "nice": false}}}},
{"mark": {"type": "text", "text": "4", "fontSize": 11, "fontWeight": "bold", "color": "#262626", "align": "left", "baseline": "alphabetic", "dx": 31, "dy": -10}, "encoding": {"x": {"datum": 0, "type": "quantitative", "scale": {"domain": [0, 360], "nice": false, "zero": false}}, "y": {"datum": 14, "type": "quantitative", "scale": {"domain": [0, 14], "nice": false}}}}
]
},
{
"width": 1277, "height": 297,
"title": {"text": "Arctic JFM Meridionaly Integrated Sea Ice Volume", "offset": -1},
"data": {"name": "vol"},
"layer": [
{"mark": {"type": "rule", "strokeDash": [12, 7], "color": "#555555", "strokeWidth": 1.3}, "encoding": {"x": {"datum": 90, "type": "quantitative", "scale": {"domain": [0, 360], "nice": false, "zero": false}}, "y": {"datum": 0, "type": "quantitative", "scale": {"domain": [0, 250], "nice": false}}, "y2": {"datum": 250}}},
{"mark": {"type": "rule", "strokeDash": [12, 7], "color": "#555555", "strokeWidth": 1.3}, "encoding": {"x": {"datum": 240, "type": "quantitative", "scale": {"domain": [0, 360], "nice": false, "zero": false}}, "y": {"datum": 0, "type": "quantitative", "scale": {"domain": [0, 250], "nice": false}}, "y2": {"datum": 250}}},
{"mark": {"type": "line", "strokeWidth": 2.5}, "encoding": {
 "x": {"field": "x", "type": "quantitative", "scale": {"domain": [0, 360], "nice": false, "zero": false}, "axis": {"title": "Longitude", "values": [0, 50, 100, 150, 200, 250, 300, 350], "labelPadding": 12, "titlePadding": 8}},
 "y": {"field": "e", "type": "quantitative", "scale": {"domain": [0, 250], "nice": false}, "axis": {"title": "km³", "values": [0, 50, 100, 150, 200, 250], "titlePadding": 4}},
 "color": {"datum": "E3SMv0 HiLat UH8to2 1986-1993", "scale": {"domain": ["E3SMv0 HiLat UH8to2 1986-1993", "GIOMAS 1986-1993", "CryoSat2/SMOS-AWI 2011-2019"], "range": ["#ff0000", "#000000", "#00ffff"]}, "legend": {"title": null, "orient": "none", "legendX": 63, "legendY": 13}}}},
{"mark": {"type": "line", "strokeWidth": 2.5}, "encoding": {
 "x": {"field": "x", "type": "quantitative", "scale": {"domain": [0, 360], "nice": false, "zero": false}, "axis": {"title": "Longitude", "values": [0, 50, 100, 150, 200, 250, 300, 350], "labelPadding": 12, "titlePadding": 8}},
 "y": {"field": "g", "type": "quantitative", "scale": {"domain": [0, 250], "nice": false}, "axis": {"title": "km³", "values": [0, 50, 100, 150, 200, 250], "titlePadding": 4}},
 "color": {"datum": "GIOMAS 1986-1993", "scale": {"domain": ["E3SMv0 HiLat UH8to2 1986-1993", "GIOMAS 1986-1993", "CryoSat2/SMOS-AWI 2011-2019"], "range": ["#ff0000", "#000000", "#00ffff"]}, "legend": {"title": null, "orient": "none", "legendX": 63, "legendY": 13}}}},
{"mark": {"type": "line", "strokeWidth": 2.5}, "encoding": {
 "x": {"field": "x", "type": "quantitative", "scale": {"domain": [0, 360], "nice": false, "zero": false}, "axis": {"title": "Longitude", "values": [0, 50, 100, 150, 200, 250, 300, 350], "labelPadding": 12, "titlePadding": 8}},
 "y": {"field": "c", "type": "quantitative", "scale": {"domain": [0, 250], "nice": false}, "axis": {"title": "km³", "values": [0, 50, 100, 150, 200, 250], "titlePadding": 4}},
 "color": {"datum": "CryoSat2/SMOS-AWI 2011-2019", "scale": {"domain": ["E3SMv0 HiLat UH8to2 1986-1993", "GIOMAS 1986-1993", "CryoSat2/SMOS-AWI 2011-2019"], "range": ["#ff0000", "#000000", "#00ffff"]}, "legend": {"title": null, "orient": "none", "legendX": 63, "legendY": 13}}}},
{"mark": {"type": "text", "text": "North Pacific", "fontSize": 20, "fontWeight": "bold", "color": "#000000", "baseline": "middle"}, "encoding": {"x": {"datum": 197.5, "type": "quantitative", "scale": {"domain": [0, 360], "nice": false, "zero": false}}, "y": {"datum": 230, "type": "quantitative", "scale": {"domain": [0, 250], "nice": false}}}},
{"mark": {"type": "text", "text": "North Atlantic", "fontSize": 20, "fontWeight": "bold", "color": "#000000", "baseline": "middle"}, "encoding": {"x": {"datum": 308.8, "type": "quantitative", "scale": {"domain": [0, 360], "nice": false, "zero": false}}, "y": {"datum": 230, "type": "quantitative", "scale": {"domain": [0, 250], "nice": false}}}},
{"mark": {"type": "rule", "color": "#666666", "strokeWidth": 1}, "encoding": {"x": {"datum": -19.5, "type": "quantitative", "scale": {"domain": [0, 360], "nice": false, "zero": false}}, "x2": {"datum": 89.7}, "y": {"datum": -29.4, "type": "quantitative", "scale": {"domain": [0, 250], "nice": false}}}},
{"mark": {"type": "rule", "color": "#666666", "strokeWidth": 1}, "encoding": {"x": {"datum": 89.7, "type": "quantitative", "scale": {"domain": [0, 360], "nice": false, "zero": false}}, "y": {"datum": -29.4, "type": "quantitative", "scale": {"domain": [0, 250], "nice": false}}, "y2": {"datum": -113}}},
{"mark": {"type": "text", "text": "E3SMv0 HiLat UH8to2 1986-1993", "fontSize": 24, "fontWeight": "bold", "color": "#1a1a1a", "align": "left", "baseline": "middle"}, "encoding": {"x": {"datum": -20.4, "type": "quantitative", "scale": {"domain": [0, 360], "nice": false, "zero": false}}, "y": {"datum": -50.9, "type": "quantitative", "scale": {"domain": [0, 250], "nice": false}}}},
{"mark": {"type": "text", "text": "GIOMAS 1986-1993", "fontSize": 24, "fontWeight": "bold", "color": "#1a1a1a", "align": "left", "baseline": "middle"}, "encoding": {"x": {"datum": -20.4, "type": "quantitative", "scale": {"domain": [0, 360], "nice": false, "zero": false}}, "y": {"datum": -75.3, "type": "quantitative", "scale": {"domain": [0, 250], "nice": false}}}},
{"mark": {"type": "text", "text": "CryoSat2/SMOS-AWI 2011-2019", "fontSize": 24, "fontWeight": "bold", "color": "#1a1a1a", "align": "left", "baseline": "middle"}, "encoding": {"x": {"datum": -20.4, "type": "quantitative", "scale": {"domain": [0, 360], "nice": false, "zero": false}}, "y": {"datum": -99.6, "type": "quantitative", "scale": {"domain": [0, 250], "nice": false}}}},
{"mark": {"type": "text", "text": "Metrics to be transitioned to PC", "fontSize": 48, "color": "#7030a0", "align": "left", "baseline": "alphabetic"}, "encoding": {"x": {"datum": 175.7, "type": "quantitative", "scale": {"domain": [0, 360], "nice": false, "zero": false}}, "y": {"datum": -111, "type": "quantitative", "scale": {"domain": [0, 250], "nice": false}}}}
]
}
],
"resolve": {"scale": {"color": "independent"}, "legend": {"color": "independent"}},
"config": {
 "font": "Liberation Sans",
 "view": {"stroke": "#5a5a5a", "strokeWidth": 1},
 "axis": {"labelFontSize": 16, "labelFontWeight": "bold", "labelColor": "#262626", "labelPadding": 7, "gridColor": "#e3e3e3", "gridWidth": 1, "domain": false, "ticks": false, "titleFontSize": 20, "titleFontWeight": "bold", "titleColor": "#262626"},
 "axisX": {"titleFontSize": 19},
 "title": {"fontSize": 26, "fontWeight": "bold", "color": "#000000", "anchor": "middle"},
 "legend": {"labelFontSize": 15.5, "labelFontWeight": "bold", "labelColor": "#000000", "labelLimit": 400, "symbolType": "M-1.4,0H6.3", "symbolSize": 100, "symbolStrokeWidth": 2.5, "strokeColor": "#333333", "fillColor": "white", "padding": 5, "rowPadding": 6, "labelOffset": 32, "cornerRadius": 0}
}
}
